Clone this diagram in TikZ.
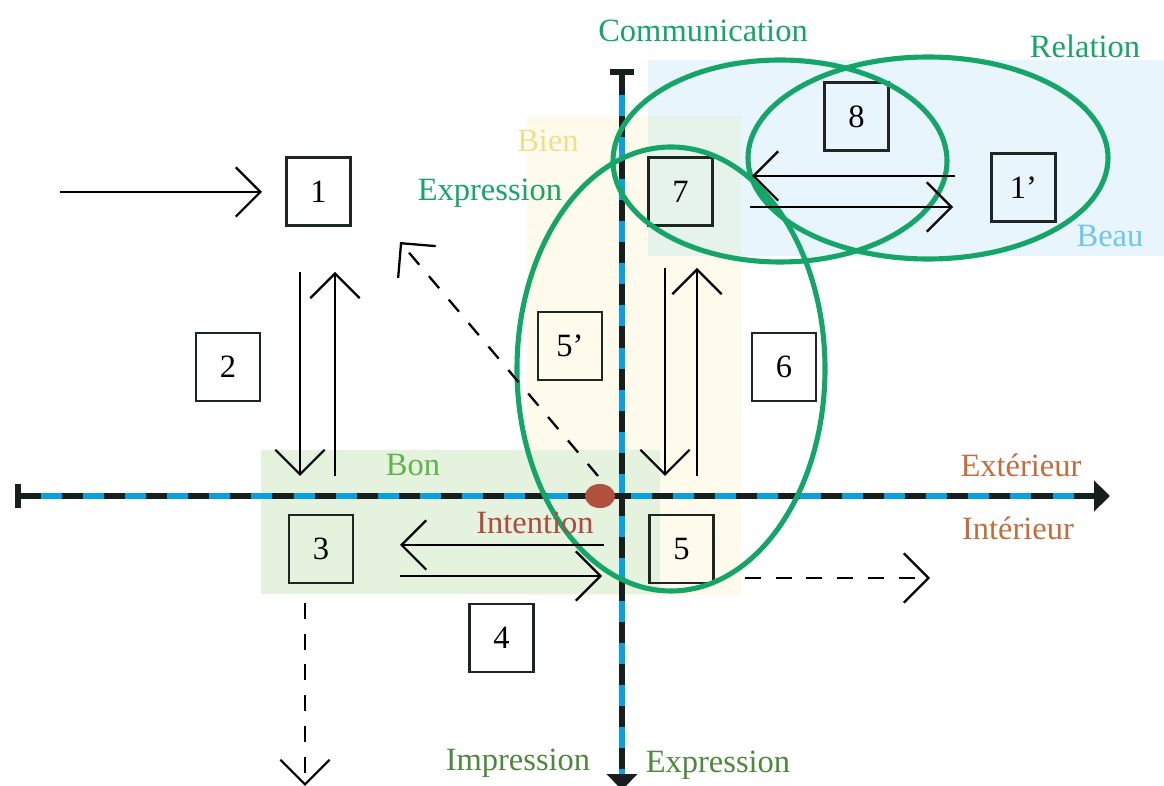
\documentclass[tikz,border=0pt]{standalone}
\usepackage{fontspec}
\setmainfont{Liberation Serif}
\usetikzlibrary{arrows.meta,shapes.geometric}

\definecolor{ringgreen}{RGB}{22,165,104}
\definecolor{bongreen}{RGB}{96,180,74}
\definecolor{darkgreen}{RGB}{78,136,60}
\definecolor{sideorange}{RGB}{196,108,60}
\definecolor{intentred}{RGB}{176,74,62}
\definecolor{dotred}{RGB}{178,80,62}
\definecolor{bienyellow}{RGB}{240,222,140}
\definecolor{beaublue}{RGB}{112,198,236}
\definecolor{axisblue}{RGB}{10,160,224}
\definecolor{axisblack}{RGB}{22,30,30}
\definecolor{boxline}{RGB}{30,38,36}
\definecolor{zoneyellow}{RGB}{254,251,236}
\definecolor{zonegreen}{RGB}{229,242,222}
\definecolor{zoneblue}{RGB}{232,245,252}
\definecolor{zonemint}{RGB}{230,243,234}

\newcommand{\lblfont}{\fontsize{18.5}{22}\selectfont}

\begin{document}
\begin{tikzpicture}[x=0.02cm,y=-0.02cm,
  box/.style={draw=boxline, line width=1.5pt, minimum width=1.28cm,
    minimum height=1.36cm, inner sep=0pt, font=\lblfont},
  lbl/.style={inner sep=0pt, font=\lblfont},
  ring/.style={draw=ringgreen, line width=2.9pt},
  flow/.style={draw=black, line width=1.3pt,
    -{Straight Barb[length=14pt,width=28pt,line width=1.3pt]}},
  dflow/.style={flow, dash pattern=on 9pt off 8.5pt},
  axisbase/.style={draw=axisblue, line width=3.4pt},
  axistop/.style={draw=axisblack, line width=3.4pt, dash pattern=on 12pt off 12pt}
]
\useasboundingbox (0,0) rectangle (1164,786);
\clip (0,0) rectangle (1164,786);

% coloured zones
\fill[zoneyellow] (527,116) rectangle (741,596);
\fill[zoneblue] (648,60) rectangle (1164,256);
\fill[zonemint] (648,116) rectangle (741,256);
\fill[zonegreen] (261,450) rectangle (660,594);

% axes: blue line under black dashes
\coordinate (hL) at (15,496);
\coordinate (hR) at (1110,496);
\coordinate (vT) at (622,69);
\coordinate (vB) at (622,790);
\draw[axisbase, shorten >=8pt] (hL) -- (hR);
\draw[axisbase, shorten >=8pt] (vT) -- (vB);
\draw[axistop, {Bar[width=14pt]}-{Triangle[length=9pt,width=17pt]}] (hL) -- (hR);
\draw[axistop, {Bar[width=14pt]}-{Triangle[length=9pt,width=17pt]}] (vT) -- (vB);

% boxes
\node[box] (b1)  at (318.5,191.5) {1};
\node[box] (b2)  at (228,367)     {2};
\node[box] (b3)  at (321,549)     {3};
\node[box] (b4)  at (501.5,638)   {4};
\node[box] (b5p) at (570,346)     {5’};
\node[box] (b5)  at (681.5,549)   {5};
\node[box] (b6)  at (784,367)     {6};
\node[box] (b7)  at (680.5,191.5) {7};
\node[box] (b8)  at (856.5,116.5) {8};
\node[box] (b1p) at (1023.5,187.5){1’};

% intention point
\node[ellipse, fill=dotred, minimum width=0.6cm, minimum height=0.48cm,
  inner sep=0pt] (dot) at (600,496) {};

% green rings
\draw[ring] (671,369) ellipse [x radius=154, y radius=222];
\draw[ring] (780,161) ellipse [x radius=167, y radius=101];
\draw[ring] (928,158) ellipse [x radius=180, y radius=101];

% arrow end points
\coordinate (in1)  at (60,192);
\coordinate (e1)   at (262,192);
\coordinate (d2a)  at (300,272);
\coordinate (d2b)  at (300,476);
\coordinate (u2a)  at (335,476);
\coordinate (u2b)  at (335,272);
\coordinate (l4a)  at (604,545);
\coordinate (l4b)  at (400,545);
\coordinate (r4a)  at (400,576);
\coordinate (r4b)  at (602,576);
\coordinate (d6a)  at (665,268);
\coordinate (d6b)  at (665,476);
\coordinate (u6a)  at (697,476);
\coordinate (u6b)  at (697,268);
\coordinate (l7a)  at (955,176);
\coordinate (l7b)  at (752,176);
\coordinate (r7a)  at (750,207);
\coordinate (r7b)  at (953,207);
\coordinate (dots) at (598,476);
\coordinate (dote) at (400,242);
\coordinate (d3s)  at (305,603);
\coordinate (d3e)  at (305,786);
\coordinate (d5s)  at (745,578);
\coordinate (d5e)  at (930,578);

% arrows
\draw[flow] (in1) -- (e1);
\draw[flow] (d2a) -- (d2b);
\draw[flow] (u2a) -- (u2b);
\draw[flow] (l4a) -- (l4b);
\draw[flow] (r4a) -- (r4b);
\draw[flow] (d6a) -- (d6b);
\draw[flow] (u6a) -- (u6b);
\draw[flow] (l7a) -- (l7b);
\draw[flow] (r7a) -- (r7b);
\draw[dflow] (dots) -- (dote);
\draw[dflow] (d3s) -- (d3e);
\draw[dflow] (d5s) -- (d5e);

% labels
\node[lbl, text=ringgreen]  (tcom)  at (703,31)  {Communication};
\node[lbl, text=ringgreen]  (trel)  at (1085,46) {Relation};
\node[lbl, text=ringgreen]  (texp)  at (490,193) {Expression};
\node[lbl, text=bienyellow] (tbien) at (548,141) {Bien};
\node[lbl, text=beaublue]   (tbeau) at (1110,236){Beau};
\node[lbl, text=bongreen]   (tbon)  at (413,465) {Bon};
\node[lbl, text=sideorange] (text)  at (1021,465){Extérieur};
\node[lbl, text=sideorange] (tint)  at (1018,528){Intérieur};
\node[lbl, text=intentred]  (tinn)  at (535,523) {Intention};
\node[lbl, text=darkgreen]  (timp)  at (518,763) {Impression};
\node[lbl, text=darkgreen]  (texb)  at (718,765) {Expression};
\end{tikzpicture}
\end{document}
